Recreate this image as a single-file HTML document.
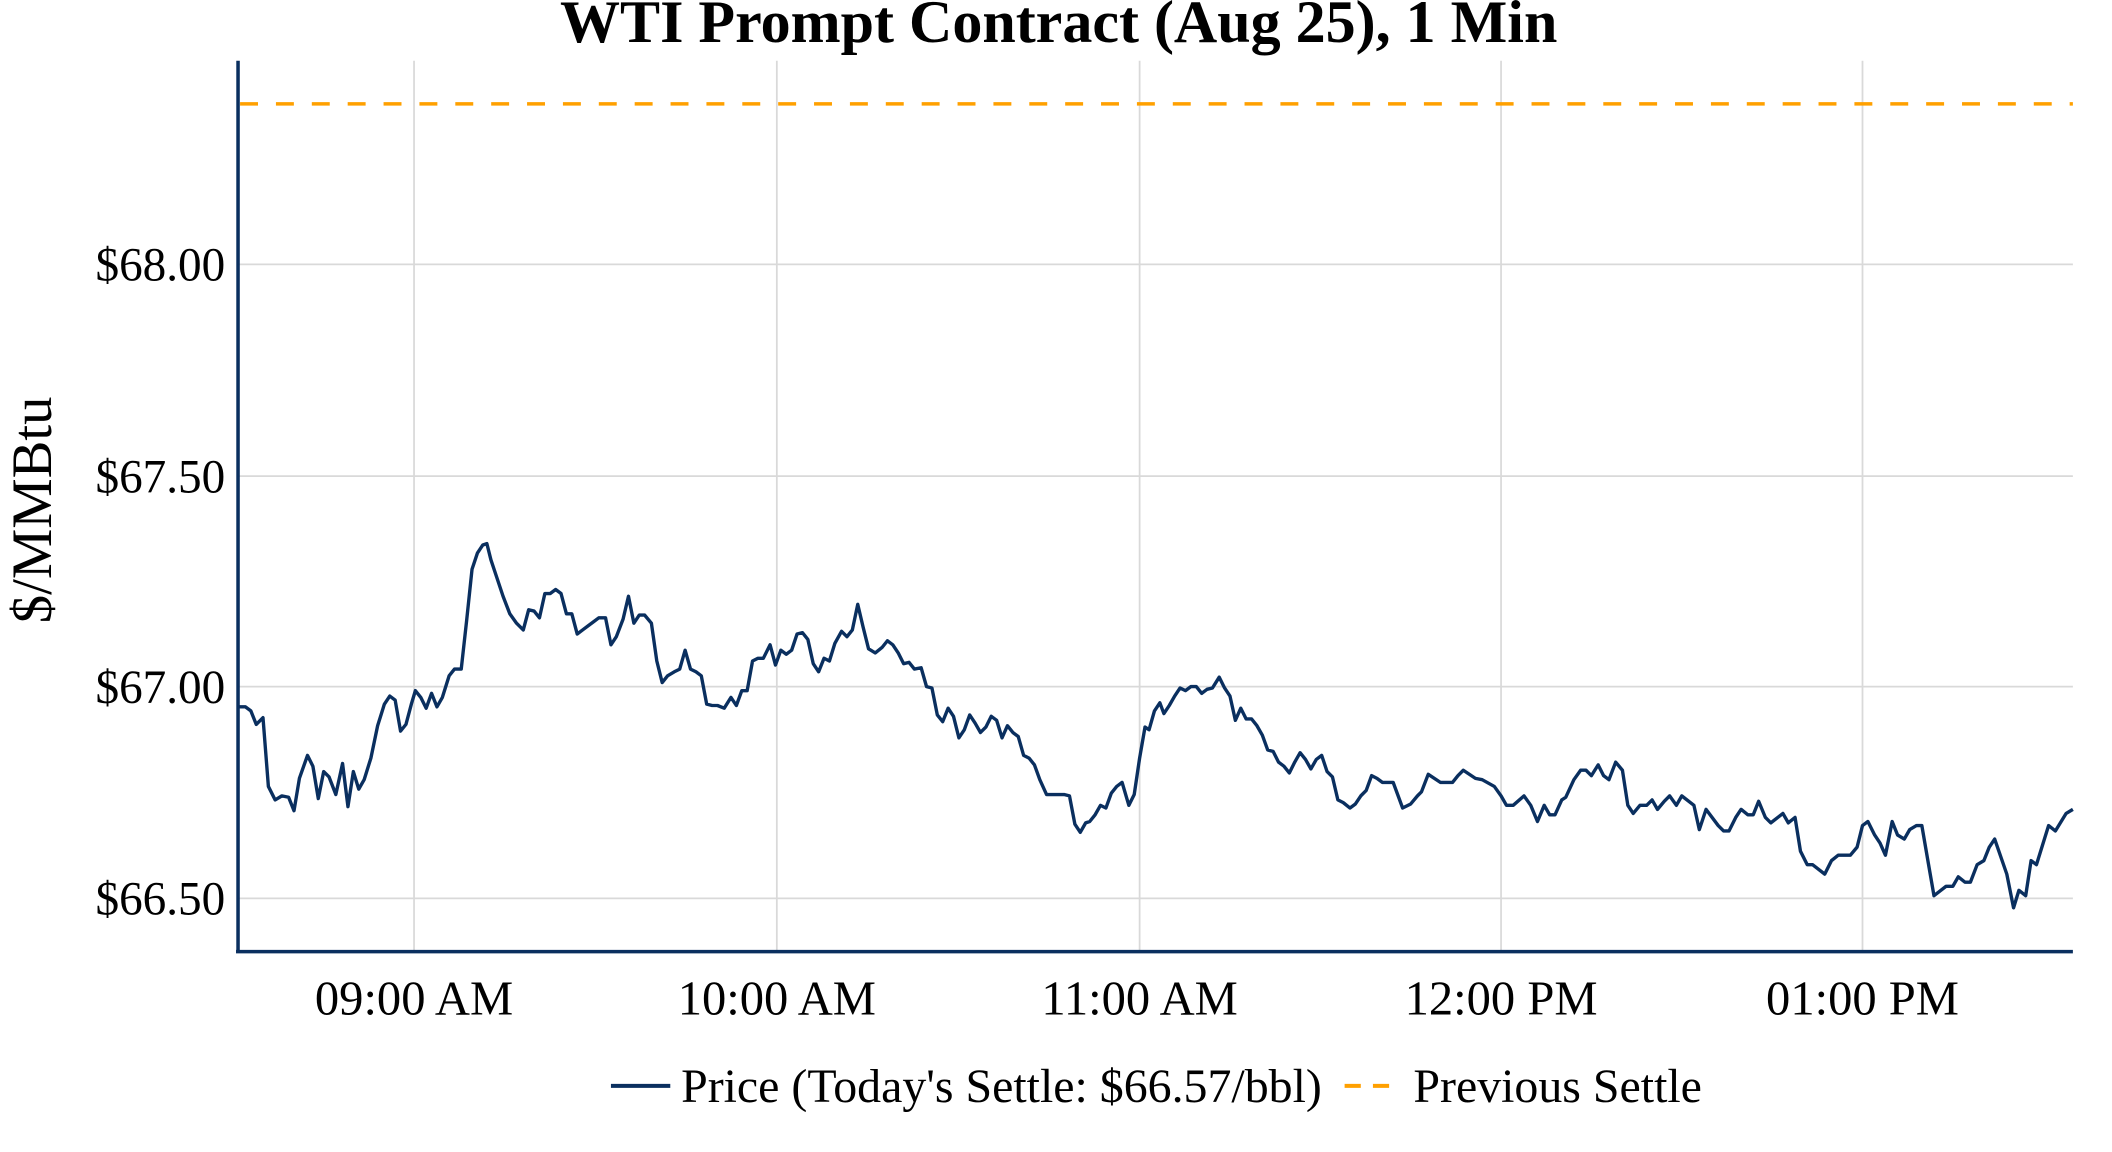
<!DOCTYPE html>
<html><head><meta charset="utf-8"><style>html,body{margin:0;padding:0;background:#fff}svg{display:block}</style></head>
<body>
<svg width="2112" height="1152" viewBox="0 0 1566 854" preserveAspectRatio="none" xmlns="http://www.w3.org/2000/svg" font-family="'Liberation Serif', serif">
<rect width="1566" height="854" fill="#fff"/>
<g stroke="#d9d9d9" stroke-width="1.3">
<line x1="307" y1="45" x2="307" y2="705"/><line x1="576" y1="45" x2="576" y2="705"/><line x1="845" y1="45" x2="845" y2="705"/><line x1="1113" y1="45" x2="1113" y2="705"/><line x1="1381" y1="45" x2="1381" y2="705"/>
<line x1="176" y1="196" x2="1537" y2="196"/><line x1="176" y1="353" x2="1537" y2="353"/><line x1="176" y1="509" x2="1537" y2="509"/><line x1="176" y1="666" x2="1537" y2="666"/>
</g>
<line x1="178" y1="77" x2="1537" y2="77" stroke="#ffa000" stroke-width="2.6" stroke-dasharray="13.3 13.3"/>
<polyline fill="none" stroke="#0a2f5f" stroke-width="2.5" stroke-linejoin="round" points="176,524 182,524 186,527 190,537 195,532 199,583 204,593 209,590 214,591 218,601 222,577 228,560 232,568 236,592 240,572 244,576 249,589 254,566 258,598 262,572 266,585 270,578 275,562 280,538 285,522 289,516 293,519 297,542 301,537 305,522 308,512 312,517 316,525 320,514 324,524 328,517 333,501 337,496 342,496 346,460 350,422 354,410 358,404 361,403 364,415 368,427 373,442 378,455 383,462 388,467 392,452 396,453 400,458 404,440 408,440 412,437 416,440 420,455 424,455 428,470 432,467 436,464 440,461 444,458 449,458 453,478 457,472 462,459 466,442 470,462 474,456 478,456 483,462 487,490 491,506 495,501 500,498 504,496 508,482 512,496 516,498 520,501 524,522 528,523 532,523 537,525 542,517 546,523 550,512 554,512 558,490 562,488 566,488 571,478 575,493 579,482 583,485 587,482 591,470 595,469 599,474 603,492 607,498 611,488 615,490 619,477 624,468 628,472 632,467 636,448 640,465 644,481 649,484 654,480 658,475 662,478 666,484 670,492 674,491 678,496 683,495 687,509 691,510 695,530 699,535 703,525 707,531 711,547 715,541 719,530 723,536 727,543 731,539 735,531 739,534 743,547 747,538 751,543 755,546 759,560 763,562 767,567 771,578 776,589 780,589 784,589 789,589 793,590 797,611 801,617 805,610 808,609 812,604 816,597 820,599 824,588 828,583 832,580 837,597 841,589 845,562 849,539 852,541 856,527 860,521 863,529 867,523 871,516 875,510 879,512 883,509 887,509 891,514 895,511 899,510 904,502 908,510 912,516 916,534 920,525 924,533 928,533 932,538 936,545 940,556 944,557 948,565 952,568 956,573 960,565 964,558 968,563 972,570 976,563 980,560 984,572 988,576 992,593 996,595 1001,599 1005,596 1009,590 1013,586 1017,575 1021,577 1025,580 1029,580 1033,580 1040,599 1046,596 1051,590 1054,587 1059,574 1068,580 1077,580 1081,575 1085,571 1094,577 1099,578 1108,583 1113,590 1117,597 1122,597 1130,590 1135,597 1140,609 1145,597 1149,604 1153,604 1158,593 1161,591 1167,578 1172,571 1176,571 1180,575 1185,567 1189,575 1193,578 1198,565 1203,571 1207,597 1211,603 1216,597 1221,597 1225,593 1229,600 1234,594 1238,590 1243,597 1247,590 1256,597 1260,615 1265,600 1274,612 1278,616 1282,616 1287,606 1291,600 1296,604 1300,604 1304,594 1309,606 1313,610 1322,603 1326,610 1331,606 1335,631 1340,641 1344,641 1353,648 1358,638 1363,634 1372,634 1377,628 1381,612 1385,609 1390,619 1394,625 1398,634 1403,609 1407,619 1412,622 1416,615 1421,612 1425,612 1430,641 1434,664 1443,657 1448,657 1452,650 1457,654 1461,654 1466,641 1471,638 1475,628 1479,622 1488,648 1493,673 1497,660 1502,664 1506,638 1510,641 1519,612 1524,616 1532,603 1537,600"/>
<line x1="176.5" y1="45" x2="176.5" y2="706" stroke="#0a2f5f" stroke-width="2.6"/>
<line x1="175" y1="705.5" x2="1537" y2="705.5" stroke="#0a2f5f" stroke-width="2.6"/>
<g font-size="35" fill="#000" text-anchor="end">
<text x="167" y="208">$68.00</text><text x="167" y="365">$67.50</text><text x="167" y="521">$67.00</text><text x="167" y="678">$66.50</text>
</g>
<g font-size="36" fill="#000" text-anchor="middle">
<text x="307" y="752">09:00 AM</text><text x="576" y="752">10:00 AM</text><text x="845" y="752">11:00 AM</text><text x="1113" y="752">12:00 PM</text><text x="1381" y="752">01:00 PM</text>
</g>
<text x="785" y="31" font-size="44.5" font-weight="bold" text-anchor="middle">WTI Prompt Contract (Aug 25), 1 Min</text>
<text transform="translate(38,378) rotate(-90)" font-size="42" text-anchor="middle">$/MMBtu</text>
<line x1="453" y1="805" x2="497" y2="805" stroke="#0a2f5f" stroke-width="3"/>
<text x="505" y="817" font-size="35.5">Price (Today's Settle: $66.57/bbl)</text>
<line x1="997" y1="805" x2="1039" y2="805" stroke="#ffa000" stroke-width="3" stroke-dasharray="12 9"/>
<text x="1048" y="817" font-size="35.5">Previous Settle</text>
</svg>
</body></html>
